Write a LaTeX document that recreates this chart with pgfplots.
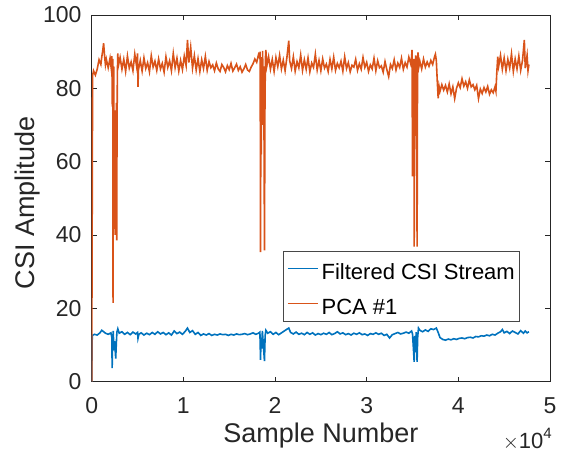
\documentclass[border=0pt]{standalone}
\usepackage{fontspec}
\setmainfont{Liberation Sans}
\usepackage{pgfplots}
\pgfplotsset{compat=1.18}
\definecolor{mblue}{rgb}{0,0.447,0.741}
\definecolor{morange}{rgb}{0.85,0.325,0.098}
\definecolor{axgray}{gray}{0.15}
\begin{document}
\begin{tikzpicture}
\begin{axis}[
  name=ax,
  scale only axis, width=458.3pt, height=366.6pt,
  xmin=0, xmax=50000, ymin=0, ymax=100,
  xtick={0,10000,20000,30000,40000,50000}, xticklabels={0,1,2,3,4,5},
  scaled x ticks=false,
  ytick={0,20,40,60,80,100},
  tick align=inside, major tick length=5pt,
  axis line style={axgray, line width=0.7pt},
  every tick/.style={axgray, line width=0.7pt},
  /pgf/number format/assume math mode=true,
  tick label style={font=\fontsize{23}{27}\selectfont, text=axgray},
  xticklabel style={inner sep=0pt, yshift=-15.4pt},
  yticklabel style={inner sep=0pt, xshift=-10pt},
  xlabel={Sample Number}, ylabel={CSI Amplitude},
  label style={font=\fontsize{27}{32}\selectfont, text=axgray, inner sep=0pt},
  xlabel style={at={(axis description cs:0.5003,-0.1129)}, anchor=north},
  ylabel style={at={(axis description cs:-0.1674,0.487)}, anchor=north},
  legend style={at={(0.9335,0.3563)}, anchor=north east, draw=axgray!85,
    line width=0.6pt, font=\fontsize{22}{26}\selectfont, text=black,
    inner xsep=4.4pt, inner ysep=1pt, row sep=2pt, column sep=3.3pt,
    nodes={inner xsep=0pt, inner ysep=6pt, text height=21pt, text depth=0pt}},
  legend cell align=left,
  legend image code/.code={\draw[#1, line width=1pt] (0pt,0pt) -- (30pt,0pt);},
]
\addplot[mblue, line width=1.6pt] coordinates {
(0,0) (60,12.6) (300,12.9) (600,12.7) (900,13.3) (1100,14.0) (1300,13.6) (1500,13.2) (1800,12.9) (2100,13.3)
(2200,12.0) (2230,3.7) (2280,10.5) (2350,13.8) (2420,8.5) (2480,11.0) (2550,9.0) (2620,6.3) (2680,10.0) (2750,13.5)
(2850,14.4) (3000,13.2) (3300,13.6) (3600,12.9) (3900,13.4) (4200,12.8) (4500,13.5) (4800,13.0) (5000,13.4) (5050,11.8)
(5150,12.9) (5400,13.3) (5700,12.7) (6000,13.2) (6300,12.8) (6600,13.4) (6900,12.9) (7200,13.6) (7500,13.0) (7800,13.4)
(8100,12.8) (8400,13.3) (8700,12.7) (9000,13.8) (9300,13.1) (9600,13.5) (9900,12.9) (10200,13.7) (10450,14.6) (10700,13.4)
(11000,13.9) (11300,12.9) (11600,13.4) (11900,12.6) (12200,13.0) (12500,12.7) (12800,13.1) (13100,12.6) (13400,12.9) (13700,12.7)
(14000,13.0) (14300,12.8) (14600,12.9) (14900,12.6) (15200,12.9) (15500,12.7) (15800,13.0) (16100,12.8) (16400,12.9) (16700,13.1)
(17000,12.8) (17300,13.0) (17600,13.3) (17900,12.9) (18200,13.2) (18350,13.5) (18420,5.9) (18470,12.0) (18550,9.0) (18620,13.8)
(18700,11.0) (18780,8.0) (18850,5.6) (18920,12.5) (19000,14.0) (19200,13.2) (19500,13.6) (19800,12.9) (20100,13.4) (20400,12.8)
(20700,13.3) (21000,13.8) (21300,14.3) (21500,14.6) (21700,13.4) (22000,13.0) (22300,13.5) (22600,12.9) (22900,13.2) (23200,12.8)
(23500,13.4) (23800,12.9) (24100,13.3) (24400,12.7) (24700,13.1) (25000,12.8) (25300,13.2) (25600,12.9) (25900,13.4) (26200,12.8)
(26500,13.1) (26800,13.6) (27100,13.0) (27400,13.3) (27700,12.8) (28000,13.1) (28300,12.7) (28600,13.2) (28900,12.9) (29200,13.3)
(29500,12.8) (29800,13.0) (30100,12.6) (30400,13.1) (30700,12.9) (31000,13.3) (31300,12.9) (31600,13.2) (31900,12.6) (32200,12.9)
(32500,11.9) (32800,12.8) (33100,13.1) (33400,13.4) (33700,13.0) (34000,13.2) (34300,13.5) (34600,13.2) (34900,13.8) (35000,13.0)
(35100,9.0) (35180,5.4) (35250,12.5) (35320,8.0) (35400,13.5) (35450,10.0) (35500,5.4) (35560,12.0) (35650,14.6) (35800,14.0)
(36100,13.6) (36400,14.1) (36700,13.7) (37000,14.4) (37300,14.2) (37600,14.6) (37800,13.4) (38000,12.0) (38300,11.5) (38600,11.3)
(38900,11.6) (39200,11.4) (39500,11.7) (39800,11.5) (40100,11.8) (40400,11.9) (40700,11.7) (41000,12.0) (41300,12.1) (41600,11.9)
(41900,12.3) (42200,12.2) (42500,12.5) (42800,12.4) (43100,12.7) (43400,12.5) (43700,12.9) (44000,12.7) (44300,13.2) (44600,13.6)
(44800,14.2) (45000,13.3) (45300,13.7) (45600,13.1) (45900,13.8) (46200,13.4) (46500,13.0) (46800,13.9) (47100,13.2) (47300,13.8)
(47500,13.3) (47700,13.6)
};
\addlegendentry{Filtered CSI Stream}
\addplot[morange, line width=1.6pt] coordinates {
(0,0) (100,83.5) (200,84.8) (400,83.6) (600,85.2) (800,87.8) (1000,86.5) (1100,88.6) (1200,90.2) (1300,92.3)
(1400,89.0) (1500,86.4) (1600,87.9) (1800,85.6) (2000,88.2) (2100,86.1) (2200,88.8)
(2250,75.0) (2300,88.0) (2330,21.5) (2360,60.0) (2400,86.0) (2450,52.0) (2500,74.0) (2550,40.0) (2600,70.0) (2650,62.0)
(2700,76.0) (2730,38.5) (2760,66.0) (2800,84.0) (2850,89.5)
(2900,86.0) (3100,88.4) (3300,85.2) (3500,87.9) (3700,84.6) (3900,88.8) (4100,85.5) (4300,87.2) (4500,84.8) (4700,89.3)
(4900,86.0) (5000,89.5) (5050,80.4) (5100,85.0) (5300,87.6) (5500,84.7) (5700,88.3) (5900,85.4) (6100,87.0) (6300,84.5)
(6500,88.9) (6700,85.8) (6900,87.4) (7100,84.9) (7300,88.0) (7500,85.3) (7700,86.8) (7900,84.4) (8100,88.6) (8300,85.7)
(8500,87.5) (8700,84.8) (8900,89.5) (9100,85.6) (9300,88.2) (9500,84.7) (9700,87.6) (9900,85.1) (10100,88.8) (10300,86.2)
(10450,93.2) (10600,87.0) (10800,91.2) (11000,85.5) (11200,88.9) (11400,85.0) (11600,88.1) (11800,84.6) (12000,87.8) (12200,85.4)
(12400,88.7) (12600,84.9) (12800,87.3) (13000,85.6) (13200,86.4) (13400,84.8) (13600,86.9) (13800,85.3) (14000,84.6) (14200,86.5)
(14400,85.7) (14600,84.5) (14800,86.2) (15000,85.1) (15200,86.8) (15400,84.7) (15600,85.6) (15800,86.6) (16000,84.9) (16200,85.9)
(16400,84.4) (16600,85.3) (16800,86.5) (17000,85.0) (17200,84.6) (17400,85.8) (17600,86.7) (17800,88.0) (18000,87.1) (18200,89.2)
(18300,88.5) (18380,90.0) (18420,35.3) (18460,82.0) (18500,62.0) (18550,88.5) (18600,70.0) (18650,90.2) (18700,72.0) (18750,86.0)
(18800,67.8) (18850,35.8) (18900,74.0) (18950,88.0) (19000,90.5) (19100,86.0)
(19300,88.6) (19500,85.2) (19700,87.9) (19900,84.6) (20100,88.4) (20300,85.9) (20500,89.0) (20700,85.3) (20900,87.7) (21100,84.8)
(21300,88.5) (21500,93.0) (21600,87.5) (21800,85.4) (22000,88.6) (22200,84.7) (22400,87.3) (22600,85.6) (22800,89.1) (23000,84.9)
(23200,87.8) (23400,85.2) (23600,88.3) (23800,84.5) (24000,86.9) (24200,85.7) (24400,89.3) (24600,85.0) (24800,87.6) (25000,84.8)
(25200,88.0) (25400,85.5) (25600,86.6) (25800,84.6) (26000,87.9) (26200,85.3) (26400,88.5) (26600,84.9) (26800,86.8) (27000,85.6)
(27200,87.4) (27400,84.7) (27600,88.6) (27800,85.4) (28000,87.0) (28200,84.5) (28400,86.3) (28600,85.8) (28800,87.9) (29000,84.9)
(29200,86.7) (29400,85.2) (29600,88.4) (29800,85.7) (30000,87.1) (30200,84.6) (30400,86.4) (30600,85.3) (30800,88.2) (31000,84.8)
(31200,87.5) (31400,85.6) (31600,86.1) (31800,84.4) (32000,87.3) (32200,85.1) (32400,83.2) (32600,86.5) (32800,85.4) (33000,87.8)
(33200,85.0) (33400,86.9) (33600,85.7) (33800,88.2) (34000,85.2) (34200,87.0) (34400,85.8) (34600,88.5) (34800,86.7)
(34900,88.5) (34950,90.5) (35000,56.0) (35050,87.0) (35100,70.0) (35150,88.0) (35180,36.8) (35250,80.0) (35300,71.3) (35350,89.0)
(35400,67.0) (35450,78.0) (35500,36.8) (35550,87.5) (35600,89.8) (35700,86.0)
(35800,87.4) (36000,85.3) (36200,88.0) (36400,85.8) (36600,87.2) (36800,86.0) (37000,87.6) (37200,86.5) (37400,88.6) (37500,89.3)
(37600,87.5) (37700,82.0) (37800,77.3)
(37900,80.5) (38000,79.2) (38200,81.0) (38400,79.5) (38600,80.8) (38800,79.0) (39000,81.2) (39200,78.5) (39400,80.4) (39600,77.2)
(39800,80.0) (40000,81.5) (40200,80.2) (40400,82.6) (40600,80.6) (40800,81.8) (41000,80.0) (41200,82.3) (41400,80.4) (41600,81.0)
(41800,79.6) (42000,80.8) (42200,77.2) (42400,79.8) (42600,78.6) (42800,80.2) (43000,79.0) (43200,80.5) (43400,78.4) (43600,79.6)
(43800,78.8) (44000,80.4) (44100,79.2)
(44200,84.5) (44300,88.6) (44400,86.0) (44600,89.0) (44800,85.2) (45000,88.3) (45200,84.8) (45400,87.9) (45600,85.5) (45800,89.4)
(46000,84.6) (46200,88.0) (46400,85.3) (46600,88.8) (46800,84.9) (47000,87.6) (47200,93.2) (47300,85.5) (47500,89.0) (47600,84.8)
(47700,86.5)
};
\addlegendentry{PCA \#1}
\end{axis}
\node[anchor=base east, inner sep=0pt, font=\fontsize{22}{26}\selectfont, text=axgray]
  at ([shift={(2pt,-66.4pt)}]ax.south east) {$\times$10\raisebox{0.45em}{\fontsize{15}{18}\selectfont 4}};
\pgfresetboundingbox
\path[use as bounding box] ([shift={(-91.7pt,-73.4pt)}]ax.south west) rectangle ([shift={(14pt,15pt)}]ax.north east);
\end{tikzpicture}
\end{document}
